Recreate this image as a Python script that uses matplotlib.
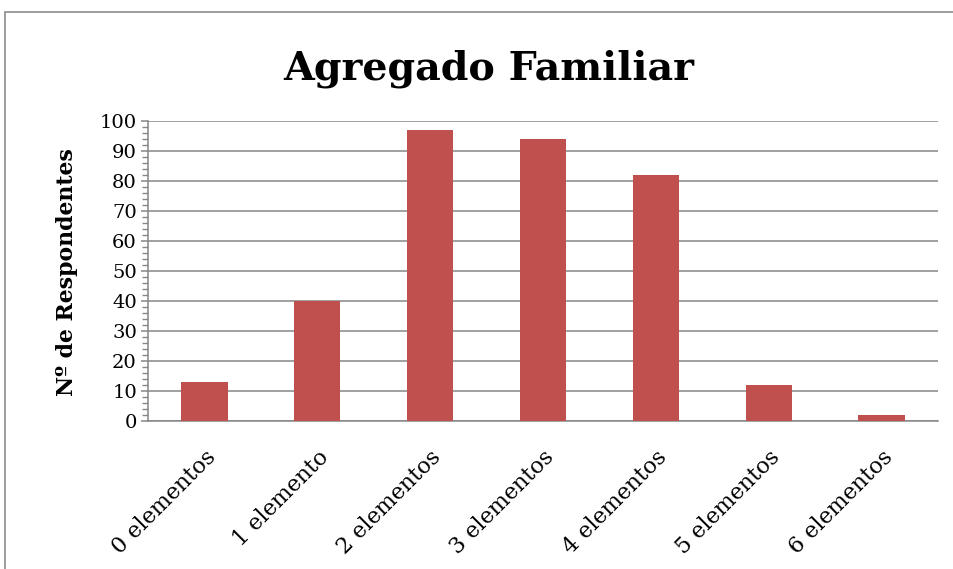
import matplotlib
matplotlib.use('Agg')
import matplotlib.pyplot as plt
from matplotlib.patches import Rectangle
from matplotlib.ticker import MultipleLocator

# data
categories = ['0 elementos', '1 elemento', '2 elementos', '3 elementos',
              '4 elementos', '5 elementos', '6 elementos']
respondentes = [13, 40, 97, 94, 82, 12, 2]

BAR_COLOR = '#C0504D'
GRID_COLOR = '#868686'
SERIF = ['DejaVu Serif']

fig = plt.figure(figsize=(9.54, 5.69), dpi=100)
ax = fig.add_axes([148/954, 1 - 421/569, (938-148)/954, 300/569])

x = range(len(categories))
ax.bar(x, respondentes, width=0.41, color=BAR_COLOR, zorder=3)

ax.set_xlim(-0.5, len(categories) - 0.5)
ax.set_ylim(0, 100)
ax.yaxis.set_major_locator(MultipleLocator(10))
ax.yaxis.set_minor_locator(MultipleLocator(2))
ax.grid(axis='y', color=GRID_COLOR, lw=1.1, zorder=0)

for side in ['top', 'right']:
    ax.spines[side].set_visible(False)
for side in ['left', 'bottom']:
    ax.spines[side].set_color(GRID_COLOR)
    ax.spines[side].set_linewidth(1.1)

ax.tick_params(axis='y', which='major', length=5, width=1.1, color=GRID_COLOR,
               labelsize=14, pad=3)
ax.tick_params(axis='y', which='minor', length=4, width=1.0, color=GRID_COLOR)
ax.tick_params(axis='x', length=0, pad=18)
for lab in ax.get_yticklabels():
    lab.set_family(SERIF)

ax.set_xticks(list(x))
ax.set_xticklabels(categories, rotation=45, ha='right', va='top',
                   rotation_mode='anchor', family=SERIF, fontsize=16)

ax.set_ylabel('Nº de Respondentes', family=SERIF, fontsize=15.8,
              fontweight='bold', va='center')
ax.yaxis.set_label_coords(67/954, 1 - 272/569, transform=fig.transFigure)

fig.text(0.512, 1 - 80/569, 'Agregado Familiar', family=SERIF, fontsize=28.5,
         fontweight='bold', ha='center', va='baseline')

# outer chart frame (only top and left visible in the crop)
fig.add_artist(Rectangle((5/954, -0.2), 1.2, 1.2 - 12/569,
                         transform=fig.transFigure, fill=False,
                         ec='#8c8c8c', lw=1.2))

fig.savefig('out.png', dpi=100)
